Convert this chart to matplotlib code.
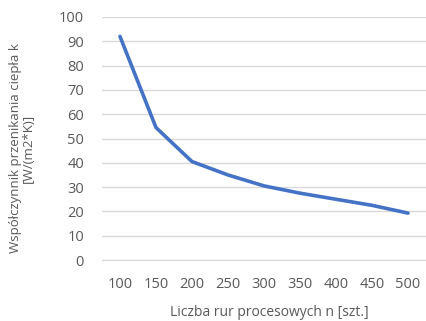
import matplotlib
matplotlib.use("Agg")
import matplotlib.pyplot as plt

categories = ["100", "150", "200", "250", "300", "350", "400", "450", "500"]
k_values = [92, 54.5, 40.5, 35, 30.5, 27.5, 25, 22.5, 19.3]
y_ticks = [0, 10, 20, 30, 40, 50, 60, 70, 80, 90, 100]

plt.rcParams["font.family"] = ["Open Sans", "DejaVu Sans"]
text_color = "#595959"

fig = plt.figure(figsize=(4.26, 3.21), dpi=100)
ax = fig.add_axes([102 / 426, 1 - 260 / 321, (426 - 102) / 426, (260 - 17) / 321])

x = list(range(len(categories)))
ax.plot(x, k_values, color="#4472C4", linewidth=2.6, solid_capstyle="round",
        solid_joinstyle="round", zorder=3)

ax.set_xlim(-0.5, len(categories) - 0.5)
ax.set_ylim(0, 100)
ax.set_yticks(y_ticks)
ax.set_xticks(x)
ax.set_xticklabels(categories)

ax.grid(axis="y", color="#d9d9d9", linewidth=1.0)
ax.set_axisbelow(True)
for side in ["top", "right", "left"]:
    ax.spines[side].set_visible(False)
ax.spines["bottom"].set_color("#d9d9d9")
ax.tick_params(axis="both", length=0, labelsize=10.5, colors=text_color)
ax.tick_params(axis="y", pad=13)
ax.tick_params(axis="x", pad=12)

ax.set_xlabel("Liczba rur procesowych n [szt.]", fontsize=10, color=text_color)
ax.xaxis.set_label_coords((269 - 102) / 324, -(313 - 260) / 243)
ax.xaxis.label.set_va("center")
ax.set_ylabel("Współczynnik przenikania ciepła k\n[W/(m2*K)]", fontsize=9.5,
              color=text_color, linespacing=1.05)
ax.yaxis.set_label_coords((22 - 102) / 324, (260 - 148) / 243)
ax.yaxis.label.set_va("center")

fig.savefig("out.png", dpi=100)
